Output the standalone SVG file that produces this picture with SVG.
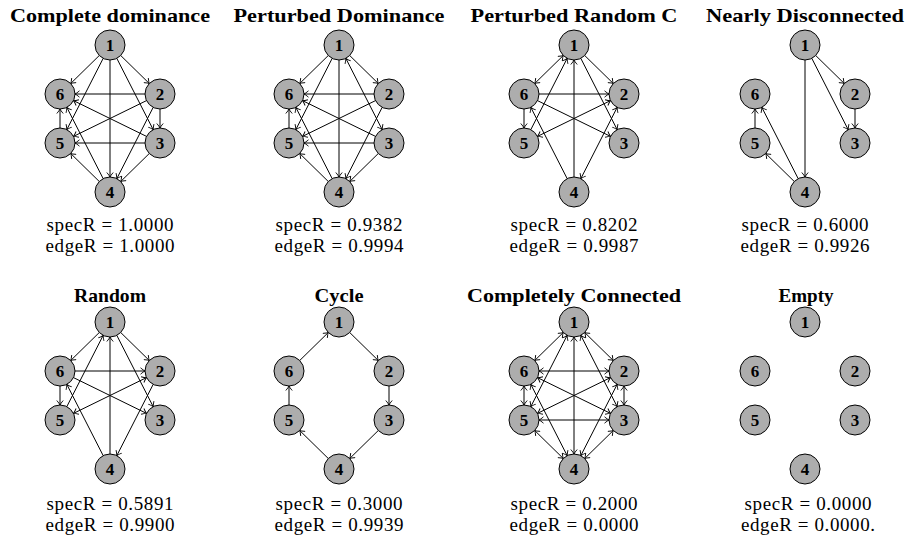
<svg xmlns="http://www.w3.org/2000/svg" width="907" height="537" viewBox="0 0 907 537">
<style>
.bg{fill:#fff}
.title{font-family:"Liberation Serif","Times New Roman",serif;font-weight:bold;font-size:19px;text-anchor:middle;fill:#000}
.stat{font-family:"Liberation Serif","Times New Roman",serif;font-size:19px;text-anchor:middle;fill:#000}
.node circle{fill:#adadad;stroke:#000;stroke-width:1}
.node text{font-family:"Liberation Serif","Times New Roman",serif;font-weight:bold;font-size:17px;text-anchor:middle;fill:#000}
.e{stroke:#000;stroke-width:1;fill:none;marker-end:url(#ah)}
.b{marker-start:url(#ah)}
</style>
<defs>
<marker id="ah" viewBox="-6 -4 7 8" refX="0" refY="0" markerWidth="7" markerHeight="8" markerUnits="userSpaceOnUse" orient="auto-start-reverse">
<path d="M-4.5,-3.2 Q-1.5,-0.6 0,0 Q-1.5,0.6 -4.5,3.2" fill="none" stroke="#000" stroke-width="0.9"/>
</marker>
</defs>
<rect class="bg" x="0" y="0" width="907" height="537"/>

<g id="titles">
<text class="title" x="110" y="22" textLength="200" lengthAdjust="spacingAndGlyphs">Complete dominance</text>
<text class="title" x="339" y="22" textLength="211" lengthAdjust="spacingAndGlyphs">Perturbed Dominance</text>
<text class="title" x="574" y="22" textLength="207" lengthAdjust="spacingAndGlyphs">Perturbed Random C</text>
<text class="title" x="805" y="22" textLength="198" lengthAdjust="spacingAndGlyphs">Nearly Disconnected</text>
<text class="title" x="110" y="302" textLength="72" lengthAdjust="spacingAndGlyphs">Random</text>
<text class="title" x="339" y="302" textLength="49" lengthAdjust="spacingAndGlyphs">Cycle</text>
<text class="title" x="574" y="302" textLength="214" lengthAdjust="spacingAndGlyphs">Completely Connected</text>
<text class="title" x="806" y="302" textLength="55" lengthAdjust="spacingAndGlyphs">Empty</text>
</g>

<g id="stats">
<text class="stat" x="110" y="231" textLength="127">specR = 1.0000</text>
<text class="stat" x="110" y="252" textLength="129">edgeR = 1.0000</text>
<text class="stat" x="339" y="231" textLength="127">specR = 0.9382</text>
<text class="stat" x="339" y="252" textLength="129">edgeR = 0.9994</text>
<text class="stat" x="574" y="231" textLength="127">specR = 0.8202</text>
<text class="stat" x="574" y="252" textLength="129">edgeR = 0.9987</text>
<text class="stat" x="805" y="231" textLength="127">specR = 0.6000</text>
<text class="stat" x="805" y="252" textLength="129">edgeR = 0.9926</text>
<text class="stat" x="110" y="510" textLength="127">specR = 0.5891</text>
<text class="stat" x="110" y="531" textLength="129">edgeR = 0.9900</text>
<text class="stat" x="339" y="510" textLength="127">specR = 0.3000</text>
<text class="stat" x="339" y="531" textLength="129">edgeR = 0.9939</text>
<text class="stat" x="574" y="510" textLength="127">specR = 0.2000</text>
<text class="stat" x="574" y="531" textLength="129">edgeR = 0.0000</text>
<text class="stat" x="808" y="510" textLength="127">specR = 0.0000</text>
<text class="stat" x="808" y="531" textLength="134">edgeR = 0.0000.</text>
</g>

<g id="connectors">
<g id="p1-edges" transform="translate(110,45)">
<line class="e" x1="10.71" y1="10.5" x2="39.29" y2="38.5"/>
<line class="e" x1="6.82" y1="13.36" x2="43.18" y2="84.64"/>
<line class="e" x1="0" y1="15" x2="0" y2="132"/>
<line class="e" x1="-6.82" y1="13.36" x2="-43.18" y2="84.64"/>
<line class="e" x1="-10.71" y1="10.5" x2="-39.29" y2="38.5"/>
<line class="e" x1="50" y1="64" x2="50" y2="83"/>
<line class="e" x1="43.18" y1="62.36" x2="6.82" y2="133.64"/>
<line class="e" x1="36.53" y1="55.6" x2="-36.53" y2="91.4"/>
<line class="e" x1="35" y1="49" x2="-35" y2="49"/>
<line class="e" x1="39.29" y1="108.5" x2="10.71" y2="136.5"/>
<line class="e" x1="35" y1="98" x2="-35" y2="98"/>
<line class="e" x1="36.53" y1="91.4" x2="-36.53" y2="55.6"/>
<line class="e" x1="-10.71" y1="136.5" x2="-39.29" y2="108.5"/>
<line class="e" x1="-6.82" y1="133.64" x2="-43.18" y2="62.36"/>
<line class="e" x1="-50" y1="83" x2="-50" y2="64"/>
</g>
<g id="p2-edges" transform="translate(339,45)">
<line class="e" x1="10.71" y1="10.5" x2="39.29" y2="38.5"/>
<line class="e b" x1="6.82" y1="13.36" x2="43.18" y2="84.64"/>
<line class="e" x1="0" y1="15" x2="0" y2="132"/>
<line class="e" x1="-6.82" y1="13.36" x2="-43.18" y2="84.64"/>
<line class="e" x1="-10.71" y1="10.5" x2="-39.29" y2="38.5"/>
<line class="e" x1="43.18" y1="62.36" x2="6.82" y2="133.64"/>
<line class="e" x1="36.53" y1="55.6" x2="-36.53" y2="91.4"/>
<line class="e" x1="35" y1="49" x2="-35" y2="49"/>
<line class="e" x1="39.29" y1="108.5" x2="10.71" y2="136.5"/>
<line class="e" x1="35" y1="98" x2="-35" y2="98"/>
<line class="e" x1="36.53" y1="91.4" x2="-36.53" y2="55.6"/>
<line class="e" x1="-10.71" y1="136.5" x2="-39.29" y2="108.5"/>
<line class="e" x1="-6.82" y1="133.64" x2="-43.18" y2="62.36"/>
<line class="e" x1="-50" y1="83" x2="-50" y2="64"/>
</g>
<g id="p3-edges" transform="translate(574,45)">
<line class="e b" x1="-10.71" y1="10.5" x2="-39.29" y2="38.5"/>
<line class="e" x1="10.71" y1="10.5" x2="39.29" y2="38.5"/>
<line class="e" x1="6.82" y1="13.36" x2="43.18" y2="84.64"/>
<line class="e" x1="-43.18" y1="84.64" x2="-6.82" y2="13.36"/>
<line class="e" x1="0" y1="132" x2="0" y2="15"/>
<line class="e" x1="-35" y1="49" x2="35" y2="49"/>
<line class="e" x1="-50" y1="64" x2="-50" y2="83"/>
<line class="e" x1="-36.53" y1="55.6" x2="36.53" y2="91.4"/>
<line class="e b" x1="36.53" y1="55.6" x2="-36.53" y2="91.4"/>
<line class="e b" x1="43.18" y1="62.36" x2="6.82" y2="133.64"/>
<line class="e" x1="-6.82" y1="133.64" x2="-43.18" y2="62.36"/>
</g>
<g id="p4-edges" transform="translate(805,45)">
<line class="e" x1="10.71" y1="10.5" x2="39.29" y2="38.5"/>
<line class="e" x1="6.82" y1="13.36" x2="43.18" y2="84.64"/>
<line class="e" x1="0" y1="15" x2="0" y2="132"/>
<line class="e" x1="50" y1="64" x2="50" y2="83"/>
<line class="e" x1="-10.71" y1="136.5" x2="-39.29" y2="108.5"/>
<line class="e" x1="-6.82" y1="133.64" x2="-43.18" y2="62.36"/>
<line class="e" x1="-50" y1="83" x2="-50" y2="64"/>
</g>
<g id="p5-edges" transform="translate(110,322)">
<line class="e" x1="-10.71" y1="10.5" x2="-39.29" y2="38.5"/>
<line class="e" x1="10.71" y1="10.5" x2="39.29" y2="38.5"/>
<line class="e" x1="6.82" y1="13.36" x2="43.18" y2="84.64"/>
<line class="e" x1="-43.18" y1="84.64" x2="-6.82" y2="13.36"/>
<line class="e" x1="0" y1="132" x2="0" y2="15"/>
<line class="e" x1="-35" y1="49" x2="35" y2="49"/>
<line class="e" x1="-50" y1="64" x2="-50" y2="83"/>
<line class="e" x1="-36.53" y1="55.6" x2="36.53" y2="91.4"/>
<line class="e b" x1="36.53" y1="55.6" x2="-36.53" y2="91.4"/>
<line class="e" x1="43.18" y1="62.36" x2="6.82" y2="133.64"/>
<line class="e" x1="-6.82" y1="133.64" x2="-43.18" y2="62.36"/>
</g>
<g id="p6-edges" transform="translate(339,322)">
<line class="e" x1="10.71" y1="10.5" x2="39.29" y2="38.5"/>
<line class="e" x1="50" y1="64" x2="50" y2="83"/>
<line class="e" x1="39.29" y1="108.5" x2="10.71" y2="136.5"/>
<line class="e" x1="-10.71" y1="136.5" x2="-39.29" y2="108.5"/>
<line class="e" x1="-50" y1="83" x2="-50" y2="64"/>
<line class="e" x1="-39.29" y1="38.5" x2="-10.71" y2="10.5"/>
</g>
<g id="p7-edges" transform="translate(574,322)">
<line class="e b" x1="10.71" y1="10.5" x2="39.29" y2="38.5"/>
<line class="e b" x1="6.82" y1="13.36" x2="43.18" y2="84.64"/>
<line class="e b" x1="0" y1="15" x2="0" y2="132"/>
<line class="e b" x1="-6.82" y1="13.36" x2="-43.18" y2="84.64"/>
<line class="e b" x1="-10.71" y1="10.5" x2="-39.29" y2="38.5"/>
<line class="e b" x1="50" y1="64" x2="50" y2="83"/>
<line class="e b" x1="43.18" y1="62.36" x2="6.82" y2="133.64"/>
<line class="e b" x1="36.53" y1="55.6" x2="-36.53" y2="91.4"/>
<line class="e b" x1="35" y1="49" x2="-35" y2="49"/>
<line class="e b" x1="39.29" y1="108.5" x2="10.71" y2="136.5"/>
<line class="e b" x1="35" y1="98" x2="-35" y2="98"/>
<line class="e b" x1="36.53" y1="91.4" x2="-36.53" y2="55.6"/>
<line class="e b" x1="-10.71" y1="136.5" x2="-39.29" y2="108.5"/>
<line class="e b" x1="-6.82" y1="133.64" x2="-43.18" y2="62.36"/>
<line class="e b" x1="-50" y1="83" x2="-50" y2="64"/>
</g>
</g>

<g id="p1-nodes" transform="translate(110,45)">
<g id="p1-n1" class="node"><circle cx="0" cy="0" r="15"/><text x="0" y="6">1</text></g>
<g id="p1-n2" class="node"><circle cx="50" cy="49" r="15"/><text x="50" y="55">2</text></g>
<g id="p1-n3" class="node"><circle cx="50" cy="98" r="15"/><text x="50" y="104">3</text></g>
<g id="p1-n4" class="node"><circle cx="0" cy="147" r="15"/><text x="0" y="153">4</text></g>
<g id="p1-n5" class="node"><circle cx="-50" cy="98" r="15"/><text x="-50" y="104">5</text></g>
<g id="p1-n6" class="node"><circle cx="-50" cy="49" r="15"/><text x="-50" y="55">6</text></g>
</g>
<g id="p2-nodes" transform="translate(339,45)">
<g id="p2-n1" class="node"><circle cx="0" cy="0" r="15"/><text x="0" y="6">1</text></g>
<g id="p2-n2" class="node"><circle cx="50" cy="49" r="15"/><text x="50" y="55">2</text></g>
<g id="p2-n3" class="node"><circle cx="50" cy="98" r="15"/><text x="50" y="104">3</text></g>
<g id="p2-n4" class="node"><circle cx="0" cy="147" r="15"/><text x="0" y="153">4</text></g>
<g id="p2-n5" class="node"><circle cx="-50" cy="98" r="15"/><text x="-50" y="104">5</text></g>
<g id="p2-n6" class="node"><circle cx="-50" cy="49" r="15"/><text x="-50" y="55">6</text></g>
</g>
<g id="p3-nodes" transform="translate(574,45)">
<g id="p3-n1" class="node"><circle cx="0" cy="0" r="15"/><text x="0" y="6">1</text></g>
<g id="p3-n2" class="node"><circle cx="50" cy="49" r="15"/><text x="50" y="55">2</text></g>
<g id="p3-n3" class="node"><circle cx="50" cy="98" r="15"/><text x="50" y="104">3</text></g>
<g id="p3-n4" class="node"><circle cx="0" cy="147" r="15"/><text x="0" y="153">4</text></g>
<g id="p3-n5" class="node"><circle cx="-50" cy="98" r="15"/><text x="-50" y="104">5</text></g>
<g id="p3-n6" class="node"><circle cx="-50" cy="49" r="15"/><text x="-50" y="55">6</text></g>
</g>
<g id="p4-nodes" transform="translate(805,45)">
<g id="p4-n1" class="node"><circle cx="0" cy="0" r="15"/><text x="0" y="6">1</text></g>
<g id="p4-n2" class="node"><circle cx="50" cy="49" r="15"/><text x="50" y="55">2</text></g>
<g id="p4-n3" class="node"><circle cx="50" cy="98" r="15"/><text x="50" y="104">3</text></g>
<g id="p4-n4" class="node"><circle cx="0" cy="147" r="15"/><text x="0" y="153">4</text></g>
<g id="p4-n5" class="node"><circle cx="-50" cy="98" r="15"/><text x="-50" y="104">5</text></g>
<g id="p4-n6" class="node"><circle cx="-50" cy="49" r="15"/><text x="-50" y="55">6</text></g>
</g>
<g id="p5-nodes" transform="translate(110,322)">
<g id="p5-n1" class="node"><circle cx="0" cy="0" r="15"/><text x="0" y="6">1</text></g>
<g id="p5-n2" class="node"><circle cx="50" cy="49" r="15"/><text x="50" y="55">2</text></g>
<g id="p5-n3" class="node"><circle cx="50" cy="98" r="15"/><text x="50" y="104">3</text></g>
<g id="p5-n4" class="node"><circle cx="0" cy="147" r="15"/><text x="0" y="153">4</text></g>
<g id="p5-n5" class="node"><circle cx="-50" cy="98" r="15"/><text x="-50" y="104">5</text></g>
<g id="p5-n6" class="node"><circle cx="-50" cy="49" r="15"/><text x="-50" y="55">6</text></g>
</g>
<g id="p6-nodes" transform="translate(339,322)">
<g id="p6-n1" class="node"><circle cx="0" cy="0" r="15"/><text x="0" y="6">1</text></g>
<g id="p6-n2" class="node"><circle cx="50" cy="49" r="15"/><text x="50" y="55">2</text></g>
<g id="p6-n3" class="node"><circle cx="50" cy="98" r="15"/><text x="50" y="104">3</text></g>
<g id="p6-n4" class="node"><circle cx="0" cy="147" r="15"/><text x="0" y="153">4</text></g>
<g id="p6-n5" class="node"><circle cx="-50" cy="98" r="15"/><text x="-50" y="104">5</text></g>
<g id="p6-n6" class="node"><circle cx="-50" cy="49" r="15"/><text x="-50" y="55">6</text></g>
</g>
<g id="p7-nodes" transform="translate(574,322)">
<g id="p7-n1" class="node"><circle cx="0" cy="0" r="15"/><text x="0" y="6">1</text></g>
<g id="p7-n2" class="node"><circle cx="50" cy="49" r="15"/><text x="50" y="55">2</text></g>
<g id="p7-n3" class="node"><circle cx="50" cy="98" r="15"/><text x="50" y="104">3</text></g>
<g id="p7-n4" class="node"><circle cx="0" cy="147" r="15"/><text x="0" y="153">4</text></g>
<g id="p7-n5" class="node"><circle cx="-50" cy="98" r="15"/><text x="-50" y="104">5</text></g>
<g id="p7-n6" class="node"><circle cx="-50" cy="49" r="15"/><text x="-50" y="55">6</text></g>
</g>
<g id="p8-nodes" transform="translate(805,322)">
<g id="p8-n1" class="node"><circle cx="0" cy="0" r="15"/><text x="0" y="6">1</text></g>
<g id="p8-n2" class="node"><circle cx="50" cy="49" r="15"/><text x="50" y="55">2</text></g>
<g id="p8-n3" class="node"><circle cx="50" cy="98" r="15"/><text x="50" y="104">3</text></g>
<g id="p8-n4" class="node"><circle cx="0" cy="147" r="15"/><text x="0" y="153">4</text></g>
<g id="p8-n5" class="node"><circle cx="-50" cy="98" r="15"/><text x="-50" y="104">5</text></g>
<g id="p8-n6" class="node"><circle cx="-50" cy="49" r="15"/><text x="-50" y="55">6</text></g>
</g>
</svg>
